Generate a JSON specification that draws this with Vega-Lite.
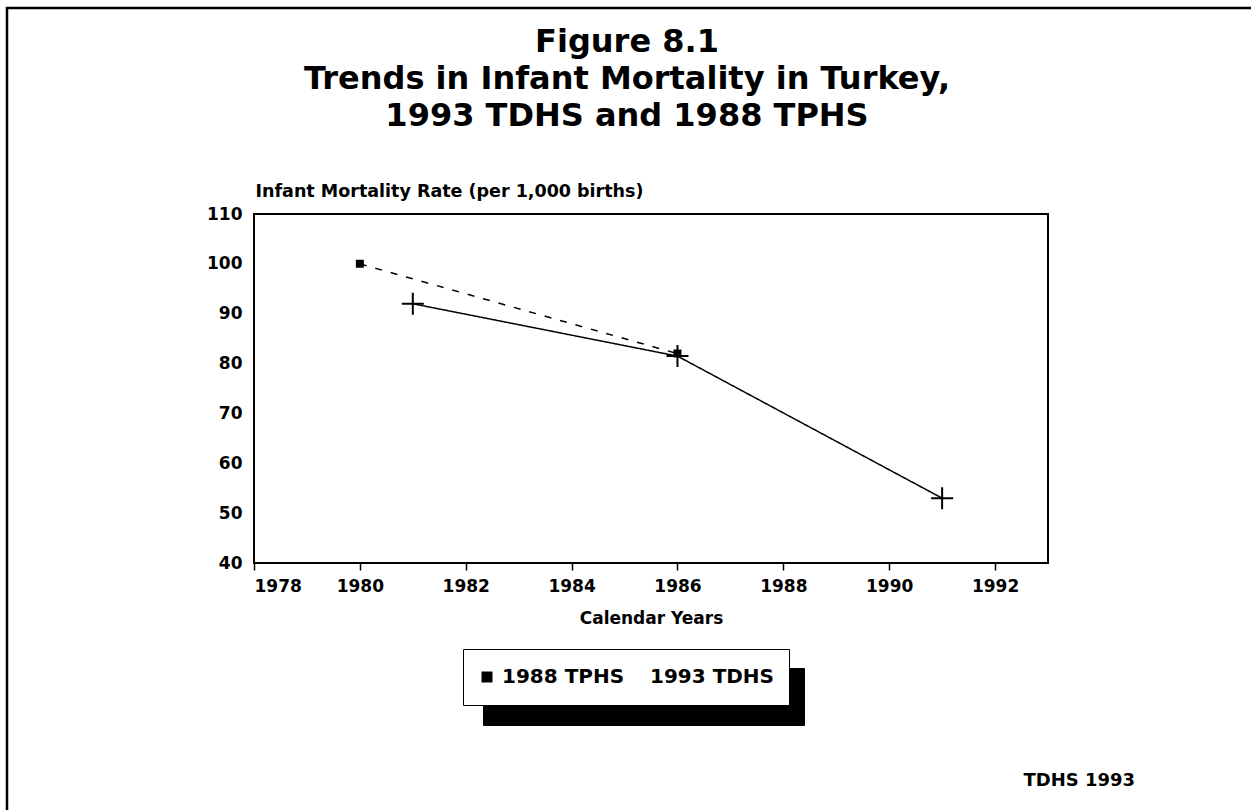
{
  "$schema": "https://vega.github.io/schema/vega-lite/v6.json",
  "width": 794,
  "height": 349,
  "autosize": {"type": "none"},
  "padding": {"left": 254, "top": 214, "right": 203, "bottom": 247},
  "background": "white",
  "config": {
    "view": {"stroke": "black", "strokeWidth": 2},
    "font": "DejaVu Sans",
    "axis": {
      "grid": false,
      "domain": false,
      "labelFont": "DejaVu Sans",
      "labelFontWeight": "bold",
      "labelFontSize": 17,
      "labelColor": "black",
      "titleFont": "DejaVu Sans",
      "titleFontWeight": "bold",
      "titleColor": "black"
    }
  },
  "title": {
    "text": ["Figure 8.1", "Trends in Infant Mortality in Turkey,", "1993 TDHS and 1988 TPHS"],
    "font": "DejaVu Sans",
    "fontWeight": "bold",
    "fontSize": 32,
    "lineHeight": 37,
    "anchor": "middle",
    "frame": "group",
    "dx": -24,
    "offset": -126,
    "color": "black"
  },
  "data": {
    "values": [
      {"year": 1980, "rate": 100, "survey": "1988 TPHS"},
      {"year": 1986, "rate": 82, "survey": "1988 TPHS"},
      {"year": 1981, "rate": 92, "survey": "1993 TDHS"},
      {"year": 1986, "rate": 81.5, "survey": "1993 TDHS"},
      {"year": 1991, "rate": 53, "survey": "1993 TDHS"}
    ]
  },
  "layer": [
    {
      "mark": {"type": "line", "strokeWidth": 1.5},
      "encoding": {
        "x": {
          "field": "year",
          "type": "quantitative",
          "scale": {"domain": [1978, 1993], "nice": false, "zero": false},
          "axis": {
            "values": [1978, 1980, 1982, 1984, 1986, 1988, 1990, 1992],
            "format": "d",
            "tickSize": 7,
            "tickColor": "black",
            "tickWidth": 1.5,
            "labelPadding": 8,
            "title": "Calendar Years",
            "titleFontSize": 17,
            "titleBaseline": "alphabetic",
            "titleY": 60
          }
        },
        "y": {
          "field": "rate",
          "type": "quantitative",
          "scale": {"domain": [40, 110], "nice": false, "zero": false},
          "axis": {
            "values": [40, 50, 60, 70, 80, 90, 100, 110],
            "ticks": false,
            "labelPadding": 12,
            "title": "Infant Mortality Rate (per 1,000 births)",
            "titleAngle": 0,
            "titleAlign": "left",
            "titleBaseline": "alphabetic",
            "titleX": 1,
            "titleY": -18,
            "titleFontSize": 17.5
          }
        },
        "strokeDash": {
          "field": "survey",
          "type": "nominal",
          "scale": {"domain": ["1988 TPHS", "1993 TDHS"], "range": [[7, 9], [1, 0]]}
        },
        "stroke": {
          "field": "survey",
          "type": "nominal",
          "scale": {"type": "ordinal", "domain": ["1993 TDHS", "1988 TPHS"], "range": ["black", "black"]},
          "legend": {
            "orient": "none",
            "legendX": -247,
            "legendY": -206,
            "title": null,
            "strokeColor": "black",
            "padding": 700,
            "labelOpacity": 0,
            "symbolOpacity": 0,
            "zindex": 0,
            "encode": {"legend": {"update": {"strokeWidth": {"value": 2.5}}}}
          }
        },
        "opacity": {
          "field": "survey",
          "type": "nominal",
          "scale": {"type": "ordinal", "domain": ["1993 TDHS"], "range": [1]},
          "legend": {
            "orient": "none",
            "legendX": 229,
            "legendY": 454,
            "title": null,
            "fillColor": "black",
            "strokeColor": "black",
            "padding": 8,
            "symbolType": "square",
            "symbolSize": 1681,
            "symbolFillColor": "black",
            "symbolStrokeColor": "black",
            "labelColor": "black",
            "labelFontSize": 10,
            "labelOffset": 205,
            "clipHeight": 41,
            "zindex": 1
          }
        }
      }
    },
    {
      "mark": {"type": "point", "filled": true, "fill": "black", "stroke": "black", "strokeWidth": 2, "opacity": 1},
      "encoding": {
        "x": {
          "field": "year",
          "type": "quantitative",
          "axis": {
            "orient": "top",
            "labels": false,
            "ticks": false,
            "domain": false,
            "title": "TDHS 1993",
            "titleAngle": 0,
            "titleAlign": "left",
            "titleBaseline": "alphabetic",
            "titleX": 769,
            "titleY": 571,
            "titleFontSize": 18
          }
        },
        "y": {"field": "rate", "type": "quantitative"},
        "shape": {
          "field": "survey",
          "type": "nominal",
          "scale": {"domain": ["1988 TPHS", "1993 TDHS"], "range": ["square", "M-1,0L1,0M0,-1L0,1"]},
          "legend": {
            "orient": "none",
            "legendX": 209,
            "legendY": 435,
            "direction": "horizontal",
            "title": null,
            "strokeColor": "black",
            "fillColor": "white",
            "padding": 14,
            "clipHeight": 28,
            "labelFont": "DejaVu Sans",
            "labelFontWeight": "bold",
            "labelFontSize": 20,
            "labelColor": "black",
            "symbolSize": 121,
            "symbolOpacity": 1,
            "symbolFillColor": "black",
            "symbolStrokeColor": "black",
            "symbolStrokeWidth": 1.5,
            "labelOffset": 5,
            "columnPadding": 0,
            "zindex": 2,
            "encode": {
              "legend": {"update": {"strokeWidth": {"value": 1.5}}},
              "symbols": {"update": {"stroke": {"value": "black"}, "fill": {"value": "black"}, "strokeWidth": {"value": 1.5}, "opacity": {"value": 1}}}
            }
          }
        },
        "size": {
          "field": "survey",
          "type": "nominal",
          "scale": {"type": "ordinal", "domain": ["1993 TDHS", "1988 TPHS"], "range": [484, 36]},
          "legend": null
        }
      }
    }
  ],
  "resolve": {"axis": {"x": "independent"}}
}
